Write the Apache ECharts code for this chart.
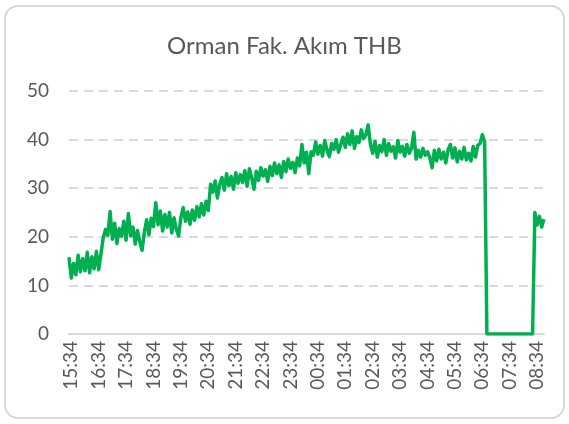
<!DOCTYPE html>
<html>
<head>
<meta charset="utf-8">
<script src="https://cdn.jsdelivr.net/npm/echarts@6/dist/echarts.min.js"></script>
<style>
  html, body { margin: 0; padding: 0; background: #ffffff; }
  #wrap { position: relative; width: 569px; height: 424px; }
  #chart { position: absolute; left: 0; top: 0; width: 569px; height: 424px; }
  #frame { position: absolute; left: 4px; top: 5px; width: 557px; height: 410px;
           border: 2px solid #D9D9D9; border-radius: 14px; pointer-events: none; }
</style>
</head>
<body>
<div id="wrap"><div id="chart"></div><div id="frame"></div></div>
<script>
const title = "Orman Fak. Akım THB";
// sample times every 5 minutes starting 15:29
const startMinute = 15 * 60 + 29;
const stepMinutes = 5;
const tickLabels = ["15:34","16:34","17:34","18:34","19:34","20:34","21:34","22:34","23:34",
                    "00:34","01:34","02:34","03:34","04:34","05:34","06:34","07:34","08:34"];
const values = [
  15.8, 11.5, 14.5, 12.2, 16.2, 12.8, 15.5, 13.0, 16.8, 12.6, 15.9, 13.4, 17.0, 13.2,
  16.5, 19.8, 21.5, 20.3,
  25.2,
  19.5, 22.8, 18.6, 21.7, 20.1, 23.2, 19.3,
  24.8,
  20.2, 22.0, 18.5, 21.3, 19.0,
  17.2,
  21.0, 23.5, 20.4, 23.8, 22.1, 27.0,
  22.5, 25.3, 21.2, 24.6, 22.0, 25.0, 20.8, 23.9, 21.5, 20.2, 24.0,
  26.0, 23.2, 25.1, 22.6, 25.5, 23.4, 26.2, 24.1, 26.8, 24.5, 27.3, 25.4,
  30.8,
  29.2, 31.5, 28.0, 30.8, 32.2, 29.6, 33.0, 30.5, 32.4, 29.8, 33.2, 31.0, 32.8,
  31.2, 33.6, 30.4, 34.0, 32.1, 29.8, 33.5, 31.6, 34.2, 32.5, 33.8, 31.4,
  34.5, 32.6, 35.2, 33.0, 34.8, 32.2, 35.5, 33.4, 36.0, 34.1, 35.3, 33.2, 36.2, 34.6,
  39.0,
  35.2, 37.4, 33.0,
  37.5, 36.8, 39.5, 37.0, 38.8, 36.6, 39.8, 37.8, 36.5, 39.2, 38.0, 40.0, 37.4, 39.0,
  40.5, 38.4, 41.2, 39.0, 41.8, 38.2, 40.6, 39.4, 42.0, 40.2, 41.0,
  43.0,
  39.0, 37.2, 39.6, 36.4, 38.8, 37.5, 40.0, 36.8, 39.2, 37.6, 38.5, 36.2, 39.8, 37.4, 38.6, 36.6, 39.0, 37.2, 38.2, 41.5,
  36.0, 37.8, 36.4, 38.2, 36.8, 37.5, 36.3,
  34.2, 37.8, 35.6, 38.0, 36.0, 37.4, 35.2, 37.9, 39.0, 36.2, 38.3, 35.4, 37.6, 36.0, 38.4, 35.8, 37.2, 35.6, 38.6, 36.4, 38.8, 39.2,
  41.0, 39.5,
  0, 0, 0, 0, 0, 0, 0, 0, 0, 0, 0, 0, 0, 0, 0, 0, 0, 0, 0, 0, 0,
  25.0, 22.4, 24.2, 22.0, 23.6
];
const categories = [];
for (let i = 0; i < values.length; i++) {
  const m = (startMinute + i * stepMinutes) % (24 * 60);
  const hh = String(Math.floor(m / 60)).padStart(2, "0");
  const mm = String(m % 60).padStart(2, "0");
  categories.push(hh + ":" + mm);
}
const yMin = 0, yMax = 50, yStep = 10;

const FONT = "Lato";
const chart = echarts.init(document.getElementById("chart"), null, { renderer: "canvas" });
chart.setOption({
  animation: false,
  backgroundColor: "#ffffff",
  title: {
    text: title, left: "center", top: 29,
    textStyle: { fontFamily: FONT, fontSize: 24, fontWeight: "normal", color: "#595959" }
  },
  grid: { left: 69, right: 25, top: 91, bottom: 90, containLabel: false },
  xAxis: {
    type: "category",
    data: categories,
    boundaryGap: false,
    axisLine: { show: true, lineStyle: { color: "#D9D9D9", width: 2 } },
    axisTick: { show: false },
    axisLabel: {
      rotate: 90, margin: 7,
      interval: (idx, val) => tickLabels.indexOf(val) >= 0,
      fontFamily: FONT, fontSize: 19, color: "#595959"
    },
    splitLine: { show: false }
  },
  yAxis: {
    type: "value", min: yMin, max: yMax, interval: yStep,
    axisLine: { show: false },
    axisTick: { show: false },
    axisLabel: { margin: 20, fontFamily: FONT, fontSize: 19, color: "#595959" },
    splitLine: { show: true, lineStyle: { color: "#D9D9D9", width: 2, type: [9, 6] } }
  },
  series: [{
    type: "line",
    data: values,
    showSymbol: false,
    smooth: false,
    lineStyle: { color: "#00B050", width: 3.5, join: "round" },
    itemStyle: { color: "#00B050" }
  }]
});
</script>
</body>
</html>
